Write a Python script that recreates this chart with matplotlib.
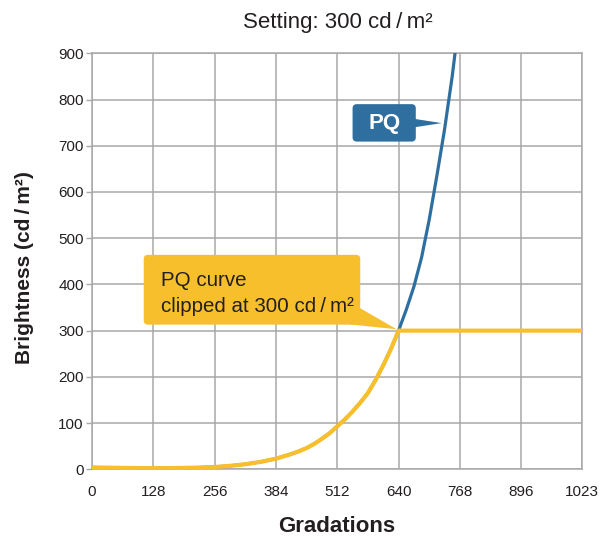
import matplotlib
matplotlib.use("Agg")
import matplotlib.pyplot as plt
from matplotlib.patches import FancyBboxPatch, Polygon

plt.rcParams['font.family'] = ['Liberation Sans', 'DejaVu Sans']

# Data
codes = [0, 32, 64, 96, 128, 160, 192, 224, 256, 288, 320, 352, 384, 400, 416,
         432, 448, 464, 480, 496, 512, 528, 544, 560, 576, 592, 608, 624, 640,
         656, 672, 688, 704, 720, 736, 752, 768]
pq_values = [4, 3.5, 3, 2.7, 2.5, 2.6, 3, 3.8, 5, 7.5, 11, 16, 23, 28, 33,
             39, 46, 55, 66, 78, 93, 108, 125, 144, 165, 193, 225, 260, 300,
             345, 395, 458, 540, 635, 735, 850, 985]
clip_level = 300
clip_code = 640
x_max = 1023
x_ticks = [0, 128, 256, 384, 512, 640, 768, 896, 1023]
y_ticks = [0, 100, 200, 300, 400, 500, 600, 700, 800, 900]

clipped_codes = [c for c in codes if c <= clip_code] + [x_max]
clipped_values = [min(v, clip_level) for c, v in zip(codes, pq_values) if c <= clip_code] + [clip_level]

BLUE = '#2f6f9f'
YELLOW = '#f8bf2d'
GRID = '#a8a8a8'
TXT = '#231f20'
TS = '\u2009'  # thin space

fig = plt.figure(figsize=(6.04, 5.40), dpi=100)
ax = fig.add_axes([92/604, 1-469.3/540, 490/604, 416/540])

ax.set_xlim(0, 1023)
ax.set_ylim(0, 900)
ax.set_xticks(x_ticks)
ax.set_yticks(y_ticks)
ax.grid(True, color=GRID, linewidth=1.1)
ax.set_axisbelow(True)
for s in ax.spines.values():
    s.set_color(GRID)
    s.set_linewidth(1.1)
ax.tick_params(axis='x', length=0, pad=11, labelsize=11, labelcolor=TXT)
ax.tick_params(axis='y', length=4.5, width=1.0, color=GRID, pad=1.5, labelsize=11, labelcolor=TXT)

ax.plot(codes, pq_values, color=BLUE, linewidth=2.3, solid_capstyle='butt',
        solid_joinstyle='round', zorder=3)
ax.plot(clipped_codes, clipped_values, color=YELLOW, linewidth=3.0, solid_capstyle='butt',
        solid_joinstyle='round', zorder=4)

# PQ callout
ax.add_patch(FancyBboxPatch((544, 709), 132, 81, boxstyle='round,pad=0,rounding_size=9',
                            facecolor=BLUE, edgecolor='none', zorder=5))
ax.add_patch(Polygon([(674, 758), (730, 749), (674, 740)], closed=True,
                     facecolor=BLUE, edgecolor='none', zorder=5))
ax.text(610, 749, 'PQ', color='white', fontsize=16, fontweight='bold',
        ha='center', va='center', zorder=6)

# Clipped callout
ax.add_patch(FancyBboxPatch((108, 313), 452, 151, boxstyle='round,pad=0,rounding_size=9',
                            facecolor=YELLOW, edgecolor='none', zorder=5))
ax.add_patch(Polygon([(559, 349), (636, 303), (538, 313.5)], closed=True,
                     facecolor=YELLOW, edgecolor='none', zorder=5))
ax.text(145, 397, 'PQ curve', color=TXT, fontsize=14.8, ha='left', va='baseline', zorder=6)
ax.text(145, 341, f'clipped at 300 cd{TS}/{TS}m²', color=TXT, fontsize=14.8,
        ha='left', va='baseline', zorder=6)

fig.text(338/604, 1-22.5/540, f'Setting: 300 cd{TS}/{TS}m²', fontsize=16, color=TXT,
         ha='center', va='center')
fig.text(25/604, 1-268/540, f'Brightness (cd{TS}/{TS}m²)', fontsize=15, fontweight='bold',
         color=TXT, rotation=90, ha='center', va='center')
fig.text(336.5/604, 1-526/540, 'Gradations', fontsize=16, fontweight='bold',
         color=TXT, ha='center', va='center')

fig.savefig('out.png', dpi=100)
